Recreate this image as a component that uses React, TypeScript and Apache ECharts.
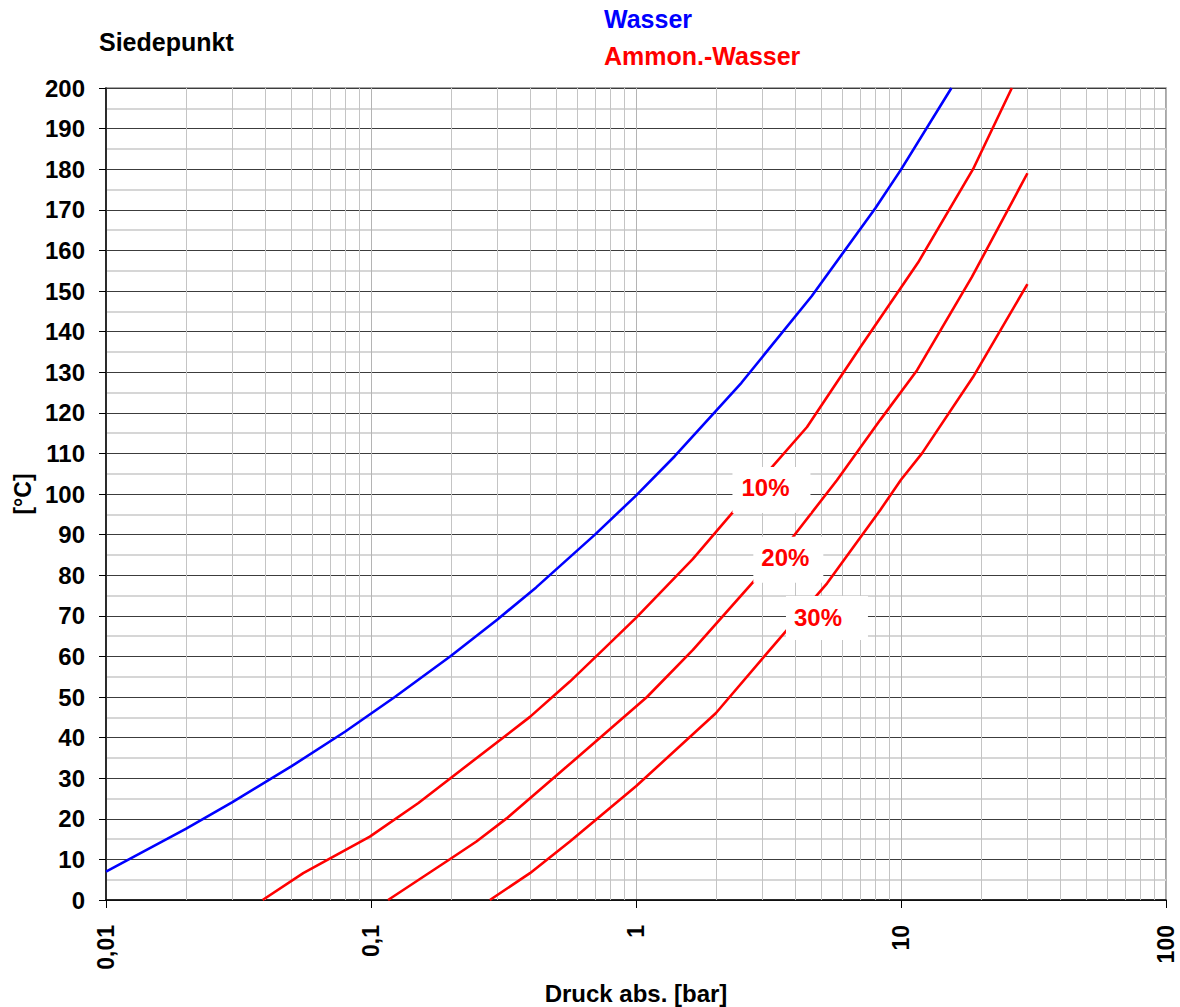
import React, { useEffect, useRef } from "react";
import * as echarts from "echarts";

// Siedekurve Wasser: Druck [bar] / Temperatur [°C]
const wasserP = [0.01, 0.02, 0.03, 0.05, 0.08, 0.123, 0.2, 0.3, 0.42, 0.7, 1.0, 1.4, 2.5, 4.6, 8, 10, 15.5];
const wasserT = [7.0, 17.5, 24.1, 32.9, 41.5, 50, 60.1, 69.1, 77, 90, 99.6, 109.3, 127.4, 148.7, 170.4, 179.9, 200];

// Ammoniakwasser 10 %
const amm10P = [0.039, 0.0555, 0.099, 0.151, 0.398, 0.563, 0.75, 1.0, 1.64, 2.5, 4.42, 7, 11.6, 18.7, 26.2];
const amm10T = [0, 6.6, 15.6, 23.9, 45.1, 53.8, 61.6, 69.5, 84, 98, 116.5, 136, 157, 180, 200];

// Ammoniakwasser 20 %
const amm20P = [0.116, 0.199, 0.25, 0.325, 0.547, 1.1, 1.64, 3.91, 5.73, 8.34, 11.5, 18.5, 30];
const amm20T = [0, 10.1, 14.4, 20.1, 32.8, 50, 61.6, 89.4, 103.4, 118.2, 130.5, 153.4, 179];

// Ammoniakwasser 30 %
const amm30P = [0.281, 0.398, 0.563, 1.0, 2.0, 3.2, 5.26, 8.34, 10, 12, 18.7, 30];
const amm30T = [0, 6.6, 14.4, 28, 46, 61.6, 78, 96, 103.5, 110, 128.8, 151.7];

// Beschriftung der Kurven: Text, Lage [bar, °C]
const curveLabels = ["10%", "20%", "30%"];
const labelP = [3.08, 3.66, 4.86];
const labelT = [101.7, 84.4, 69.6];

// Achsen
const decadeLines = [0.01, 0.1, 1, 10, 100];
const minorLines = [
  0.02, 0.03, 0.04, 0.05, 0.06, 0.07, 0.08, 0.09,
  0.2, 0.3, 0.4, 0.5, 0.6, 0.7, 0.8, 0.9,
  2, 3, 4, 5, 6, 7, 8, 9,
  20, 30, 40, 50, 60, 70, 80, 90,
];
const tempMin = 0;
const tempMax = 200;
const tempStep = 10;

const FONT = "'Liberation Sans', Arial, sans-serif";
const RED = "#ff0000";
const BLUE = "#0000ff";

const pairs = (xs: number[], ys: number[]) => xs.map((x, i) => [x, ys[i]]);

export default function App() {
  const ref = useRef<HTMLDivElement>(null);

  useEffect(() => {
    if (!ref.current) return;
    const chart = echarts.init(ref.current, undefined, { renderer: "svg" });

    const labelBox = (i: number, offset: number[], size: number[]) => ({
      coord: [labelP[i], labelT[i]],
      symbol: "rect",
      symbolSize: size,
      symbolOffset: offset,
      itemStyle: { color: "#ffffff" },
      label: {
        show: true,
        position: "inside",
        offset: [-offset[0], -offset[1]],
        formatter: curveLabels[i],
        color: RED,
        fontSize: 24,
        fontWeight: "bold",
        fontFamily: FONT,
      },
    });

    const redLine = (name: string, data: number[][], mark: any) => ({
      name,
      type: "line",
      data,
      showSymbol: false,
      symbol: "none",
      lineStyle: { color: RED, width: 2.6 },
      itemStyle: { color: RED },
      z: 3,
      markPoint: { z: 6, silent: true, data: [mark] },
    });

    chart.setOption({
      animation: false,
      backgroundColor: "#ffffff",
      textStyle: { fontFamily: FONT },
      grid: {
        left: 106,
        right: 14,
        top: 88,
        bottom: 107,
        outerBoundsMode: "none",
        containLabel: false,
        show: true,
        borderColor: "#8a8a8a",
        borderWidth: 1.5,
      },
      xAxis: {
        type: "log",
        logBase: 10,
        min: decadeLines[0],
        max: decadeLines[decadeLines.length - 1],
        name: "Druck abs. [bar]",
        nameLocation: "middle",
        nameGap: 81,
        nameTextStyle: { fontSize: 24, fontWeight: "bold", color: "#000", fontFamily: FONT },
        axisLine: { show: true, lineStyle: { color: "#000", width: 1.5 } },
        axisTick: { show: true, inside: false, length: 8, lineStyle: { color: "#000" } },
        axisLabel: {
          rotate: 90,
          margin: 25,
          fontSize: 23,
          fontWeight: "bold",
          color: "#000",
          fontFamily: FONT,
          formatter: (v: number) => String(v).replace(".", ","),
        },
        splitLine: { show: true, lineStyle: { color: "#b4b4b4", width: 1 } },
      },
      yAxis: {
        type: "value",
        min: tempMin,
        max: tempMax,
        interval: tempStep,
        name: "[°C]",
        nameLocation: "middle",
        nameGap: 67,
        nameRotate: 90,
        nameTextStyle: { fontSize: 23, fontWeight: "bold", color: "#000", fontFamily: FONT },
        axisLine: { show: true, lineStyle: { color: "#000", width: 1.5 } },
        axisTick: { show: true, inside: false, length: 7, lineStyle: { color: "#000" } },
        axisLabel: {
          margin: 21,
          fontSize: 24,
          fontWeight: "bold",
          color: "#000",
          fontFamily: FONT,
        },
        splitLine: { show: true, lineStyle: { color: "#3c3c3c", width: 1.2 } },
        minorTick: { show: false, splitNumber: 2 },
        minorSplitLine: { show: true, lineStyle: { color: "#d6d6d6", width: 2 } },
      },
      series: [
        {
          name: "Wasser",
          type: "line",
          data: pairs(wasserP, wasserT),
          showSymbol: false,
          symbol: "none",
          lineStyle: { color: BLUE, width: 2.6 },
          itemStyle: { color: BLUE },
          z: 3,
          markLine: {
            z: 1,
            silent: true,
            symbol: ["none", "none"],
            label: { show: false },
            lineStyle: { color: "#c4c4c4", width: 1, type: "solid" },
            data: minorLines.map((v) => ({ xAxis: v })),
          },
        },
        redLine("Ammon.-Wasser 10%", pairs(amm10P, amm10T), labelBox(0, [6, 3], [78, 46])),
        redLine("Ammon.-Wasser 20%", pairs(amm20P, amm20T), labelBox(1, [3, 2.5], [70, 46])),
        redLine("Ammon.-Wasser 30%", pairs(amm30P, amm30T), labelBox(2, [9, 0.5], [82, 44])),
      ],
      graphic: [
        {
          type: "text",
          left: 99,
          top: 29,
          style: { text: "Siedepunkt", fill: "#000", fontSize: 25, fontWeight: "bold", fontFamily: FONT },
        },
        {
          type: "text",
          left: 604,
          top: 6,
          style: { text: "Wasser", fill: BLUE, fontSize: 25, fontWeight: "bold", fontFamily: FONT },
        },
        {
          type: "text",
          left: 604,
          top: 43,
          style: { text: "Ammon.-Wasser", fill: RED, fontSize: 25, fontWeight: "bold", fontFamily: FONT },
        },
      ],
    });

    return () => chart.dispose();
  }, []);

  return (
    <div
      ref={ref}
      style={{ position: "absolute", left: 0, top: 0, width: 1180, height: 1007, background: "#fff" }}
    />
  );
}
